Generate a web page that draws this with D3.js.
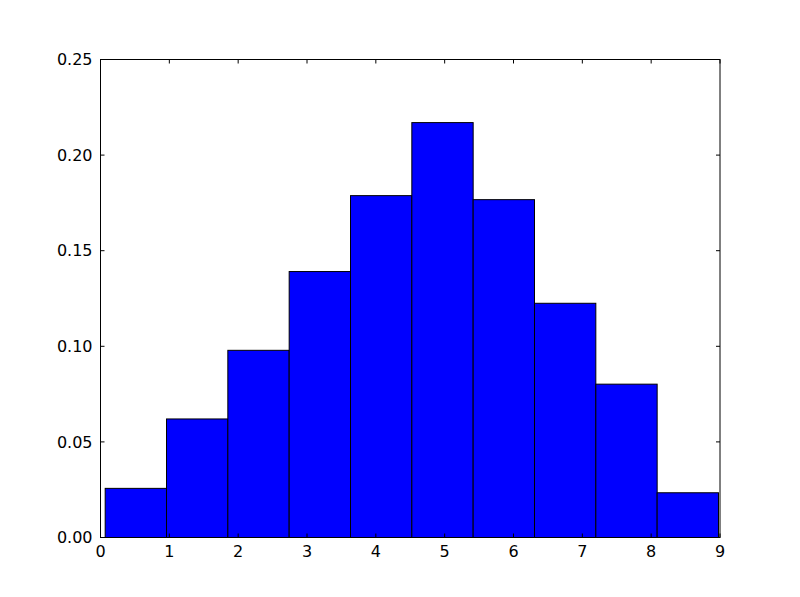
<!DOCTYPE html>
<html>
<head>
<meta charset="utf-8">
<script src="https://cdn.jsdelivr.net/npm/d3@7"></script>
<style>
  body { margin: 0; background: #fff; }
  text { font-family: "DejaVu Sans", sans-serif; }
</style>
</head>
<body>
<svg id="chart" width="800" height="597"></svg>
<script>
// histogram bin edges and normalised counts
var binEdges = [0.068, 0.959, 1.850, 2.741, 3.632, 4.523, 5.414, 6.305, 7.196, 8.087, 8.978]
var binHeights = [0.0257, 0.0620, 0.0979, 0.1391, 0.1788, 0.2170, 0.1767, 0.1225, 0.0802, 0.0234]
var xTicks = [0, 1, 2, 3, 4, 5, 6, 7, 8, 9]
var yTicks = [0.00, 0.05, 0.10, 0.15, 0.20, 0.25]

var svg = d3.select("#chart")
// plot area (note: "top" is a reserved window property, so use other names)
var plotLeft = 100.5, plotRight = 720, plotTop = 59.5, plotBottom = 537.5

var x = d3.scaleLinear().domain([0, 9]).range([plotLeft, plotRight])
var y = d3.scaleLinear().domain([0, 0.25]).range([plotBottom, plotTop])

var bins = binHeights.map(function(h, i){ return {x0: binEdges[i], x1: binEdges[i+1], h: h} })

svg.append("g")
    .selectAll("rect")
    .data(bins)
    .enter()
        .append("rect")
        .attr("x", function(d){ return x(d.x0) })
        .attr("y", function(d){ return y(d.h) })
        .attr("width", function(d){ return x(d.x1) - x(d.x0) })
        .attr("height", function(d){ return y(0) - y(d.h) })
        .attr("fill", "#0000ff")
        .attr("stroke", "#000")
        .attr("stroke-width", 1)

// frame
svg.append("rect")
    .attr("x", plotLeft).attr("y", plotTop)
    .attr("width", plotRight - plotLeft).attr("height", plotBottom - plotTop)
    .attr("fill", "none").attr("stroke", "#000").attr("stroke-width", 1)

// ticks pointing inward, on all four sides
var fmtY = d3.format(".2f")
var g = svg.append("g").attr("stroke", "#000").attr("stroke-width", 1)
xTicks.forEach(function(t){
    g.append("line").attr("x1", x(t)).attr("x2", x(t)).attr("y1", plotBottom).attr("y2", plotBottom - 4)
    g.append("line").attr("x1", x(t)).attr("x2", x(t)).attr("y1", plotTop).attr("y2", plotTop + 4)
})
yTicks.forEach(function(t){
    g.append("line").attr("x1", plotLeft).attr("x2", plotLeft + 4).attr("y1", y(t)).attr("y2", y(t))
    g.append("line").attr("x1", plotRight).attr("x2", plotRight - 4).attr("y1", y(t)).attr("y2", y(t))
})

svg.append("g")
    .selectAll("text")
    .data(xTicks)
    .enter()
        .append("text")
        .attr("x", function(d){ return x(d) })
        .attr("y", plotBottom + 19)
        .attr("text-anchor", "middle")
        .attr("font-size", "16px")
        .text(function(d){ return d })

svg.append("g")
    .selectAll("text")
    .data(yTicks)
    .enter()
        .append("text")
        .attr("x", plotLeft - 8)
        .attr("y", function(d){ return y(d) })
        .attr("dy", "0.36em")
        .attr("text-anchor", "end")
        .attr("font-size", "16px")
        .text(function(d){ return fmtY(d) })
</script>
</body>
</html>
